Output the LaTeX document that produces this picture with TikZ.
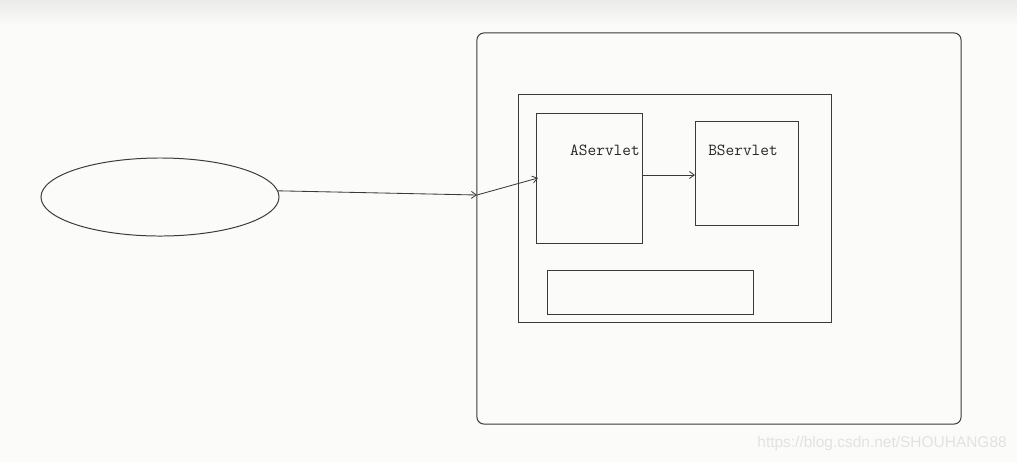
\documentclass[tikz,border=0pt]{standalone}
\usepackage{fontspec}
\setsansfont{Liberation Sans}
\usetikzlibrary{arrows.meta,shapes.geometric}
\definecolor{ink}{HTML}{3A3A3A}
\definecolor{paper}{HTML}{FBFBF9}
\definecolor{haze}{HTML}{EBEBE9}
\definecolor{mark}{HTML}{E2E2E2}
\tikzset{
  %% nodes
  box/.style     = {draw=ink, line width=0.7pt, inner sep=0pt, outer sep=0pt},
  client/.style  = {ellipse, draw=ink, line width=0.7pt, inner sep=0pt,
                    minimum width=5.95cm, minimum height=1.95cm},
  lbl/.style     = {font=\ttfamily\fontsize{12}{14}\selectfont, text=black!85, inner sep=0pt},
  wmark/.style   = {font=\sffamily\fontsize{11}{13}\selectfont, text=mark, inner sep=0pt},
  %% arrows
  flow/.style    = {-{Straight Barb[length=3.5pt,width=5pt]}, draw=ink, line width=0.6pt},
}
\begin{document}
\begin{tikzpicture}[x=0.025cm, y=-0.025cm]
\useasboundingbox (0,0) rectangle (1017,462);
\fill[paper] (0,0) rectangle (1017,462);
\shade[top color=haze, bottom color=paper] (0,0) rectangle (1017,26);

%% ---- browser (left) ----
\node[client] (browser) at (160,197) {};

%% ---- server (right) ----
\node[box, rounded corners=5pt, minimum width=12.1cm, minimum height=9.775cm] (server) at (719,228.5) {};
\node[box, minimum width=7.8cm, minimum height=5.675cm] (web) at (675,208.5) {};
\node[box, minimum width=2.65cm, minimum height=3.225cm] (aserv) at (589,178.5) {};
\node[box, minimum width=2.575cm, minimum height=2.6cm] (bserv) at (746.5,173) {};
\node[box, minimum width=5.125cm, minimum height=1.1cm] (store) at (650.5,292) {};

\node[lbl] (alabel) at (605,150) {AServlet};
\node[lbl] (blabel) at (743,150) {BServlet};

%% request path: browser -> server edge -> AServlet
\coordinate (entry) at (477,195);
\coordinate (ain) at (538,178);
\draw[flow] (browser.3) -- (entry);
\draw[flow] (entry) -- (ain);
\draw[flow] (aserv.east |- 0,175) -- (bserv.west |- 0,175);

\node[wmark, anchor=east] (site) at (1007,443) {https://blog.csdn.net/SHOUHANG88};
\end{tikzpicture}
\end{document}
